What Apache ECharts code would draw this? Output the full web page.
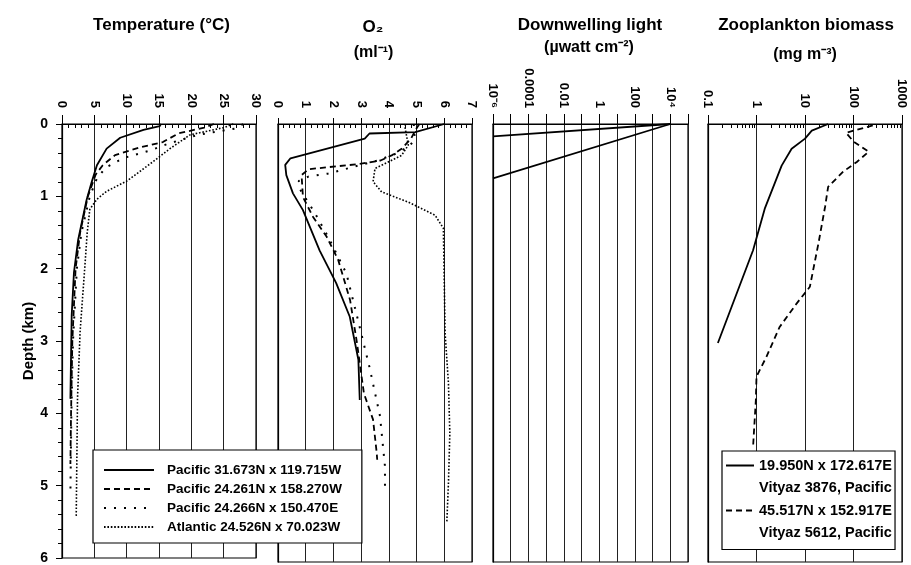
<!DOCTYPE html>
<html>
<head>
<meta charset="utf-8">
<title>Ocean profiles</title>
<script src="https://cdn.jsdelivr.net/npm/echarts@6/dist/echarts.min.js"></script>
<style>
  html, body { margin: 0; padding: 0; background: #fff; }
  #main { width: 911px; height: 565px; }
</style>
</head>
<body>
<div id="main"></div>
<script>
// series names
const namePac1 = "Pacific 31.673N x 119.715W";
const namePac2 = "Pacific 24.261N x 158.270W";
const namePac3 = "Pacific 24.266N x 150.470E";
const nameAtl = "Atlantic 24.526N x 70.023W";
const nameZoo1 = "19.950N x 172.617E";
const nameZoo1b = "Vityaz 3876, Pacific";
const nameZoo2 = "45.517N x 152.917E";
const nameZoo2b = "Vityaz 5612, Pacific";

// temperature (deg C) vs depth (km)
const tPac1Depth = [0, 0.03, 0.08, 0.19, 0.34, 0.57, 0.8, 1.05, 1.6, 2.05, 2.64, 3.2, 3.8];
const tPac1 = [15.3, 15.1, 12.6, 9.0, 6.9, 5.4, 4.6, 3.8, 2.5, 1.85, 1.5, 1.4, 1.3];
const tPac2Depth = [0, 0.05, 0.13, 0.25, 0.32, 0.43, 0.57, 0.7, 1.0, 1.5, 2.0, 3.0, 4.0, 4.7];
const tPac2 = [23.5, 22, 18, 15.6, 12.2, 8.2, 6.3, 5.2, 4.0, 2.8, 2.1, 1.6, 1.4, 1.3];
const tPac3Depth = [0, 0.06, 0.15, 0.27, 0.37, 0.47, 0.6, 0.75, 1.0, 1.5, 2.0, 3.0, 4.0, 5.1];
const tPac3 = [28, 27, 21, 16.5, 13.5, 9.5, 6.8, 5.4, 4.3, 3.0, 2.3, 1.7, 1.45, 1.3];
const tAtlDepth = [0, 0.05, 0.15, 0.34, 0.52, 0.79, 0.93, 1.04, 1.18, 1.5, 1.95, 2.87, 3.78, 4.6, 5.42];
const tAtl = [26.5, 25, 19.8, 16.7, 14.1, 10, 6.9, 5.4, 4.3, 3.9, 3.55, 2.8, 2.4, 2.3, 2.2];

// oxygen (ml/l) vs depth (km)
const oPac1Depth = [0, 0.11, 0.13, 0.2, 0.47, 0.56, 0.7, 0.95, 1.18, 1.73, 2.18, 2.64, 3.23, 3.78];
const oPac1 = [6.0, 4.95, 3.3, 3.13, 0.45, 0.26, 0.3, 0.54, 0.9, 1.5, 2.1, 2.59, 2.9, 2.95];
const oPac2Depth = [0, 0.09, 0.2, 0.34, 0.43, 0.5, 0.55, 0.59, 0.62, 0.7, 1.0, 1.27, 1.54, 1.86, 2.41, 3.0, 3.69, 4.05, 4.5, 4.6];
const oPac2 = [5.1, 4.95, 4.8, 4.46, 4.1, 3.7, 2.9, 1.85, 1.1, 0.85, 0.9, 1.26, 1.75, 2.17, 2.6, 2.85, 3.1, 3.43, 3.56, 3.58];
const oPac3Depth = [0, 0.1, 0.2, 0.3, 0.4, 0.5, 0.6, 0.68, 0.72, 0.78, 0.9, 1.2, 1.59, 2.05, 2.6, 3.33, 4.0, 4.69, 5.06];
const oPac3 = [4.9, 4.9, 4.95, 4.75, 4.3, 3.6, 2.6, 1.8, 1.1, 0.75, 0.8, 1.3, 1.87, 2.47, 2.83, 3.3, 3.68, 3.86, 3.86];
const oAtlDepth = [0, 0.04, 0.29, 0.43, 0.61, 0.79, 0.93, 1.07, 1.25, 1.43, 1.5, 2.87, 3.55, 4.24, 4.92, 5.47];
const oAtl = [4.6, 4.58, 4.7, 4.46, 3.5, 3.43, 3.74, 4.7, 5.67, 5.97, 5.97, 6.03, 6.15, 6.2, 6.15, 6.09];

// downwelling light (uW/cm2) vs depth (km)
const light1Depth = [0, 0.17];
const light1 = [1e4, 1e-6];
const light2Depth = [0, 0.745];
const light2 = [1e4, 1e-6];

// zooplankton biomass (mg/m3) vs depth (km)
const zoo1Depth = [0, 0.09, 0.2, 0.34, 0.57, 1.16, 1.73, 3.0];
const zoo1 = [30, 13.8, 10, 5.3, 3.3, 1.48, 0.85, 0.16];
const zoo2Depth = [0.02, 0.12, 0.24, 0.38, 0.52, 0.65, 0.86, 1.13, 1.63, 2.23, 2.46, 2.78, 3.19, 3.46, 3.78, 4.42];
const zoo2 = [250, 70, 100, 205, 117, 62, 30, 26, 19, 12.6, 6.7, 3.0, 1.6, 1.0, 0.97, 0.85];

// ticks and tick labels of the log axes
const lightDecades = [1e-6, 1e-5, 1e-4, 1e-3, 1e-2, 1e-1, 1, 10, 100, 1e3, 1e4, 1e5];
const lightTickValues = [1e-6, 1e-4, 1e-2, 1, 100, 1e4];
const lightTickLabels = ["10⁻⁶", "0.0001", "0.01", "1", "100", "10⁴"];
const zooTickValues = [0.1, 1, 10, 100, 1000];
const zooTickLabels = ["0.1", "1", "10", "100", "1000"];
const zooMinorTicks = [
  0.2, 0.3, 0.4, 0.5, 0.6, 0.7, 0.8, 0.9,
  2, 3, 4, 5, 6, 7, 8, 9,
  20, 30, 40, 50, 60, 70, 80, 90,
  200, 300, 400, 500, 600, 700, 800, 900,
];

const FONT = "Liberation Sans, Arial, Helvetica, sans-serif";
const black = "#000";

function pairs(values, depths) {
  return values.map((v, i) => [v, depths[i]]);
}
function logLabel(values, labels) {
  return function (v) {
    const e = Math.log10(v);
    for (let i = 0; i < values.length; i++) {
      if (Math.abs(Math.log10(values[i]) - e) < 1e-6) return labels[i];
    }
    return "";
  };
}

const solid = { color: black, width: 1.8, type: "solid" };
const dashed = { color: black, width: 1.8, type: [6, 4] };
const sparse = { color: black, width: 2, type: [2, 8] };
const dense = { color: black, width: 1.6, type: [1.6, 1.8] };

const grids = [
  { left: 62, top: 124, width: 194, height: 438 },
  { left: 278, top: 124, width: 194, height: 438 },
  { left: 493, top: 124, width: 195, height: 438 },
  { left: 708, top: 124, width: 194, height: 438 },
].map((g) => Object.assign({ show: true, borderColor: black, borderWidth: 1.2 }, g));

const axisLine = { show: true, lineStyle: { color: black, width: 1.2 } };
const splitLine = { show: true, lineStyle: { color: "#222", width: 1 } };
const topLabel = { rotate: -90, margin: 16, fontSize: 13, fontWeight: "bold", color: black, fontFamily: FONT };

const xAxes = [
  {
    gridIndex: 0, type: "value", position: "top", min: 0, max: 30, interval: 5,
    axisLine, splitLine, axisLabel: topLabel,
    axisTick: { show: true, inside: false, length: 9, lineStyle: { color: black } },
    minorTick: { show: true, splitNumber: 5, length: -4, lineStyle: { color: black } },
  },
  {
    gridIndex: 1, type: "value", position: "top", min: 0, max: 7, interval: 1,
    axisLine, splitLine, axisLabel: topLabel,
    axisTick: { show: true, inside: false, length: 6, lineStyle: { color: black } },
    minorTick: { show: true, splitNumber: 5, length: -4, lineStyle: { color: black } },
  },
  {
    gridIndex: 2, type: "log", logBase: 10, position: "top", min: 1e-6, max: 1e5,
    axisLine, splitLine,
    axisLabel: Object.assign({}, topLabel, {
      customValues: lightTickValues,
      formatter: logLabel(lightTickValues, lightTickLabels),
    }),
    axisTick: { show: true, inside: false, length: 10, customValues: lightDecades, lineStyle: { color: black } },
    minorTick: { show: false },
  },
  {
    gridIndex: 3, type: "log", logBase: 10, position: "top", min: 0.1, max: 1000, splitNumber: 4,
    axisLine, splitLine,
    axisLabel: Object.assign({}, topLabel, {
      customValues: zooTickValues,
      formatter: logLabel(zooTickValues, zooTickLabels),
    }),
    axisTick: { show: true, inside: false, length: 9, customValues: zooTickValues, lineStyle: { color: black } },
    minorTick: { show: false },
  },
  // minor ticks of the zooplankton axis
  {
    gridIndex: 3, type: "log", logBase: 10, position: "top", min: 0.1, max: 1000,
    axisLine: { show: false }, splitLine: { show: false }, axisLabel: { show: false },
    axisTick: { show: true, inside: true, length: 4, customValues: zooMinorTicks, lineStyle: { color: black } },
  },
];

const yAxes = [0, 1, 2, 3].map((i) => {
  const ax = {
    gridIndex: i, type: "value", inverse: true, min: 0, max: 6, interval: 1,
    axisLine, splitLine: { show: false },
    axisTick: { show: false }, axisLabel: { show: false },
  };
  if (i === 0) {
    Object.assign(ax, {
      name: "Depth (km)", nameLocation: "middle", nameGap: 24, nameRotate: 90,
      nameTextStyle: { fontSize: 15, fontWeight: "bold", color: black, fontFamily: FONT },
      axisTick: { show: true, length: 6, lineStyle: { color: black } },
      minorTick: { show: true, splitNumber: 5, length: 4, lineStyle: { color: black } },
      axisLabel: { show: true, fontSize: 14, fontWeight: "bold", color: black, margin: 14, fontFamily: FONT },
    });
  }
  return ax;
});

function line(name, idx, values, depths, style) {
  return {
    name, type: "line", xAxisIndex: idx, yAxisIndex: idx,
    data: pairs(values, depths), symbol: "none", showSymbol: false,
    lineStyle: style, itemStyle: { color: black }, silent: true, clip: false,
  };
}

const series = [
  line(namePac1, 0, tPac1, tPac1Depth, solid),
  line(namePac2, 0, tPac2, tPac2Depth, dashed),
  line(namePac3, 0, tPac3, tPac3Depth, sparse),
  line(nameAtl, 0, tAtl, tAtlDepth, dense),
  line(namePac1, 1, oPac1, oPac1Depth, solid),
  line(namePac2, 1, oPac2, oPac2Depth, dashed),
  line(namePac3, 1, oPac3, oPac3Depth, sparse),
  line(nameAtl, 1, oAtl, oAtlDepth, dense),
  line("light1", 2, light1, light1Depth, solid),
  line("light2", 2, light2, light2Depth, solid),
  line(nameZoo1, 3, zoo1, zoo1Depth, solid),
  line(nameZoo2, 3, zoo2, zoo2Depth, dashed),
  // second text lines of the zooplankton legend, no visible icon
  line(nameZoo1b, 3, [], [], { color: black, width: 0, opacity: 0 }),
  line(nameZoo2b, 3, [], [], { color: black, width: 0, opacity: 0 }),
];

const legendBase = {
  orient: "vertical", selectedMode: false, backgroundColor: "#fff",
  borderColor: black, borderWidth: 1.2, itemHeight: 14, z: 10,
  itemStyle: { opacity: 0 },
};

const titles = [
  ["Temperature (°C)", 161.5, 25.5, 17],
  ["O₂", 373, 27, 17],
  ["(ml⁻¹)", 373.5, 53, 16],
  ["Downwelling light", 590, 25, 17],
  ["(µwatt cm⁻²)", 589, 48, 16],
  ["Zooplankton biomass", 806, 25, 17],
  ["(mg m⁻³)", 805, 55, 16],
];

const option = {
  animation: false,
  textStyle: { fontFamily: FONT },
  grid: grids,
  xAxis: xAxes,
  yAxis: yAxes,
  series,
  legend: [
    Object.assign({}, legendBase, {
      data: [namePac1, namePac2, namePac3, nameAtl],
      left: 93, top: 450, itemWidth: 50, itemGap: 5,
      padding: [13, 20, 9, 10],
      textStyle: { fontSize: 13.5, fontWeight: "bold", color: black, lineHeight: 14, padding: [0, 0, 0, 8], fontFamily: FONT },
    }),
    Object.assign({}, legendBase, {
      data: [nameZoo1, nameZoo1b, nameZoo2, nameZoo2b],
      left: 722, top: 451, itemWidth: 28, itemGap: 7.5,
      padding: [7, 3, 9, 3],
      textStyle: { fontSize: 14.5, fontWeight: "bold", color: black, lineHeight: 14, fontFamily: FONT },
    }),
  ],
  graphic: titles.map((t) => ({
    type: "text", x: t[1], y: t[2], silent: true,
    style: {
      text: t[0], fontSize: t[3], fontWeight: "bold", fontFamily: FONT, fill: black,
      align: "center", verticalAlign: "middle",
    },
  })),
};

const chart = echarts.init(document.getElementById("main"));
chart.setOption(option);
</script>
</body>
</html>
